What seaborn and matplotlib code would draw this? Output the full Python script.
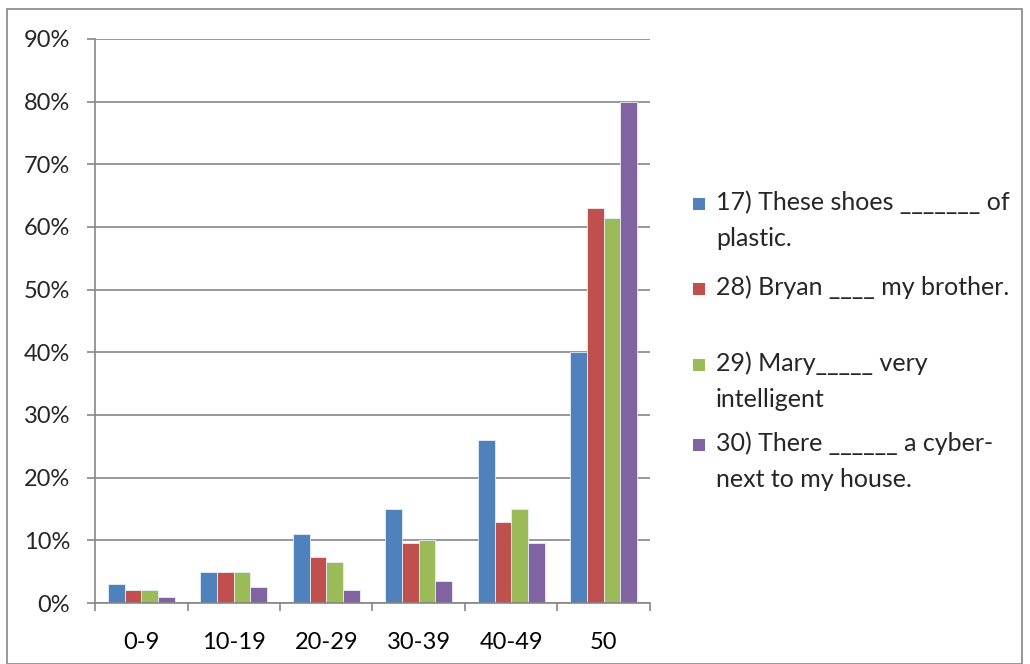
import numpy as np
import pandas as pd
import seaborn as sns
import matplotlib.pyplot as plt
from matplotlib.patches import Rectangle
from matplotlib.ticker import PercentFormatter, FixedLocator, NullFormatter

# data
groups = ['0-9', '10-19', '20-29', '30-39', '40-49', '50']
q17 = [3, 5, 11, 15, 26, 40]
q28 = [2, 5, 7.3, 9.5, 13, 63]
q29 = [2, 5, 6.5, 10, 15, 61.5]
q30 = [1, 2.5, 2, 3.5, 9.5, 80]
series = ['17) These shoes _______ of\nplastic.',
          '28) Bryan ____ my brother.',
          '29) Mary_____ very\nintelligent',
          '30) There ______ a cyber-\nnext to my house.']
colors = ['#4F81BD', '#C0504D', '#9BBB59', '#8064A2']

df = pd.DataFrame({'group': groups * 4,
                   'question': np.repeat(series, len(groups)),
                   'value': np.array(q17 + q28 + q29 + q30) / 100.0})

sns.set_style('white')
plt.rcParams['font.family'] = ['Lato', 'DejaVu Sans']
fs = 17

fig = plt.figure(figsize=(10.3, 6.64), dpi=100)
ax = fig.add_axes([95 / 1030, 1 - 603 / 664, 555 / 1030, 564 / 664])

sns.barplot(data=df, x='group', y='value', hue='question', order=groups,
            hue_order=series, palette=colors, saturation=1, width=0.72, gap=0,
            edgecolor='#e8eef5', linewidth=0.6, ax=ax, legend=False)

ax.set_ylim(0, 0.9)
ax.set_xlim(-0.5, len(groups) - 0.5)
ax.yaxis.set_major_locator(FixedLocator(np.arange(0, 0.91, 0.1)))
ax.yaxis.set_major_formatter(PercentFormatter(1.0, decimals=0))
ax.grid(axis='y', color='#868686', linewidth=1.2)
ax.set_axisbelow(True)
ax.set_xlabel('')
ax.set_ylabel('')

for s in ['top', 'right']:
    ax.spines[s].set_visible(False)
for s in ['left', 'bottom']:
    ax.spines[s].set_color('#868686')
    ax.spines[s].set_linewidth(1.2)

# category boundary ticks on x, labels at centres
ax.set_xticks(np.arange(len(groups)))
ax.set_xticklabels(groups)
ax.tick_params(axis='x', length=0, labelsize=fs, pad=21, colors='black')
ax.set_xticks(np.arange(-0.5, len(groups)), minor=True)
ax.xaxis.set_minor_formatter(NullFormatter())
ax.tick_params(axis='x', which='minor', length=6, width=1.2, color='#868686',
               direction='out', bottom=True)
ax.tick_params(axis='y', length=6, width=1.2, color='#868686',
               labelsize=fs, pad=12, direction='out', left=True)

# legend drawn by hand so the marker sits on the first line of each label
legend_y = [204, 289, 365, 445]
for lab, col, yy in zip(series, colors, legend_y):
    fig.patches.append(Rectangle((693 / 1030, 1 - (yy + 6) / 664), 12 / 1030, 12 / 664,
                                 transform=fig.transFigure, facecolor=col,
                                 edgecolor='none'))
    fig.text(716 / 1030, 1 - (yy - 14) / 664, lab, fontsize=18, va='top', ha='left',
             linespacing=1.7)

# outer border of the chart area
fig.patches.append(Rectangle((7 / 1030, 0), 1015 / 1030, 1 - 9 / 664,
                             transform=fig.transFigure, fill=False,
                             edgecolor='#868686', linewidth=1.2))

fig.savefig('out.png', dpi=100)
